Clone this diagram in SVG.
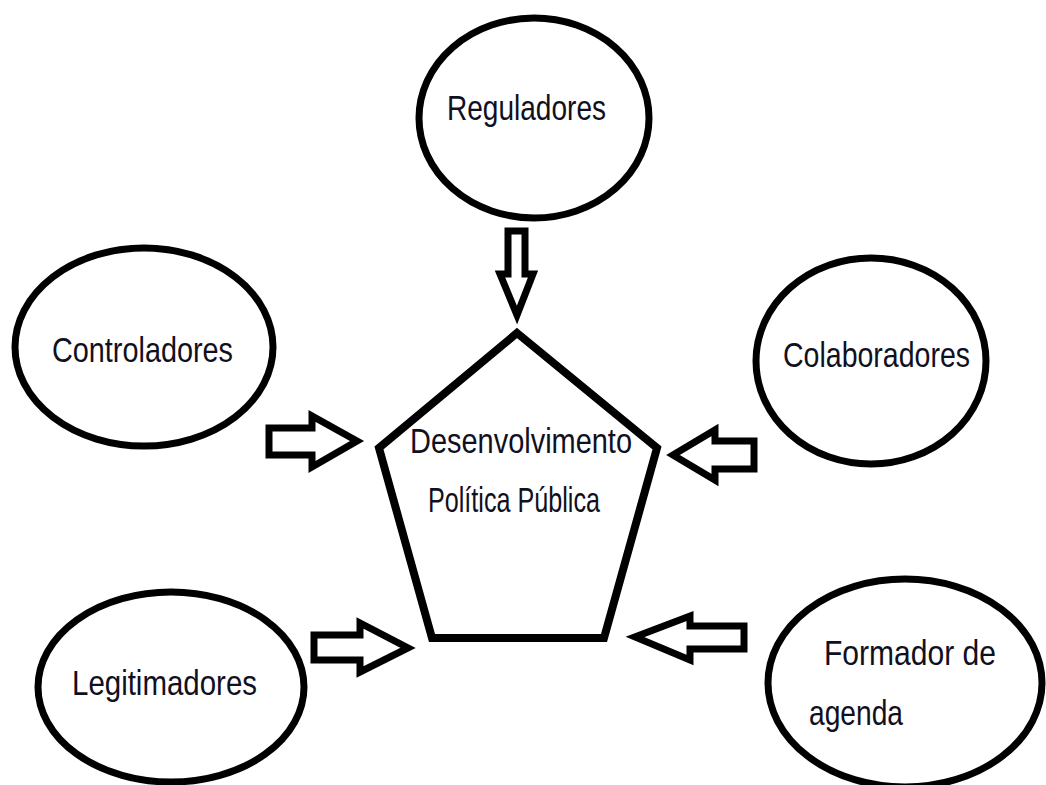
<svg xmlns="http://www.w3.org/2000/svg" width="1046" height="785" viewBox="0 0 1046 785">
  <style>
    .shape { fill: #fff; stroke: #000; stroke-width: 7; }
    .arrow { fill: #fff; stroke: #000; stroke-width: 7; stroke-linejoin: miter; stroke-miterlimit: 10; }
    .label { font-family: "Liberation Sans", Arial, sans-serif; font-size: 35px; fill: #10101e; }
  </style>
  <rect width="1046" height="785" fill="#fff"/>

  <!-- central pentagon -->
  <g id="node-desenvolvimento">
    <polygon class="shape" style="stroke-width:8" points="517,333 657,448 604,638 432,638 379,448"/>
    <text class="label" x="410" y="453" textLength="222" lengthAdjust="spacingAndGlyphs">Desenvolvimento</text>
    <text class="label" x="428" y="512" textLength="172" lengthAdjust="spacingAndGlyphs">Política Pública</text>
  </g>

  <g id="node-reguladores">
    <ellipse class="shape" cx="534" cy="118" rx="115" ry="100"/>
    <text class="label" x="447" y="120" textLength="159" lengthAdjust="spacingAndGlyphs">Reguladores</text>
  </g>

  <g id="node-controladores">
    <ellipse class="shape" cx="144" cy="347" rx="129" ry="99"/>
    <text class="label" x="52" y="362" textLength="181" lengthAdjust="spacingAndGlyphs">Controladores</text>
  </g>

  <g id="node-colaboradores">
    <ellipse class="shape" cx="871" cy="361" rx="115" ry="103"/>
    <text class="label" x="783" y="367" textLength="187" lengthAdjust="spacingAndGlyphs">Colaboradores</text>
  </g>

  <g id="node-legitimadores">
    <ellipse class="shape" cx="171" cy="687" rx="133" ry="95"/>
    <text class="label" x="72" y="695" textLength="185" lengthAdjust="spacingAndGlyphs">Legitimadores</text>
  </g>

  <g id="node-formador">
    <ellipse class="shape" cx="905" cy="683" rx="137" ry="104"/>
    <text class="label" x="824" y="665" textLength="172" lengthAdjust="spacingAndGlyphs">Formador de</text>
    <text class="label" x="809" y="725" textLength="94" lengthAdjust="spacingAndGlyphs">agenda</text>
  </g>

  <!-- block arrows pointing at the pentagon -->
  <g id="connectors">
    <polygon class="arrow" points="508,231 525,231 525,274 533,274 517,315 500,274 508,274"/>
    <polygon class="arrow" points="269,428 312,428 312,416 357,441 312,467 312,455 269,455"/>
    <polygon class="arrow" points="314,635 360,635 360,623 408,648 360,672 360,660 314,660"/>
    <polygon class="arrow" points="754,441 715,441 715,430 673,455 715,480 715,469 754,469"/>
    <polygon class="arrow" points="744,626 690,626 690,616 635,637 690,660 690,649 744,649"/>
  </g>
</svg>
